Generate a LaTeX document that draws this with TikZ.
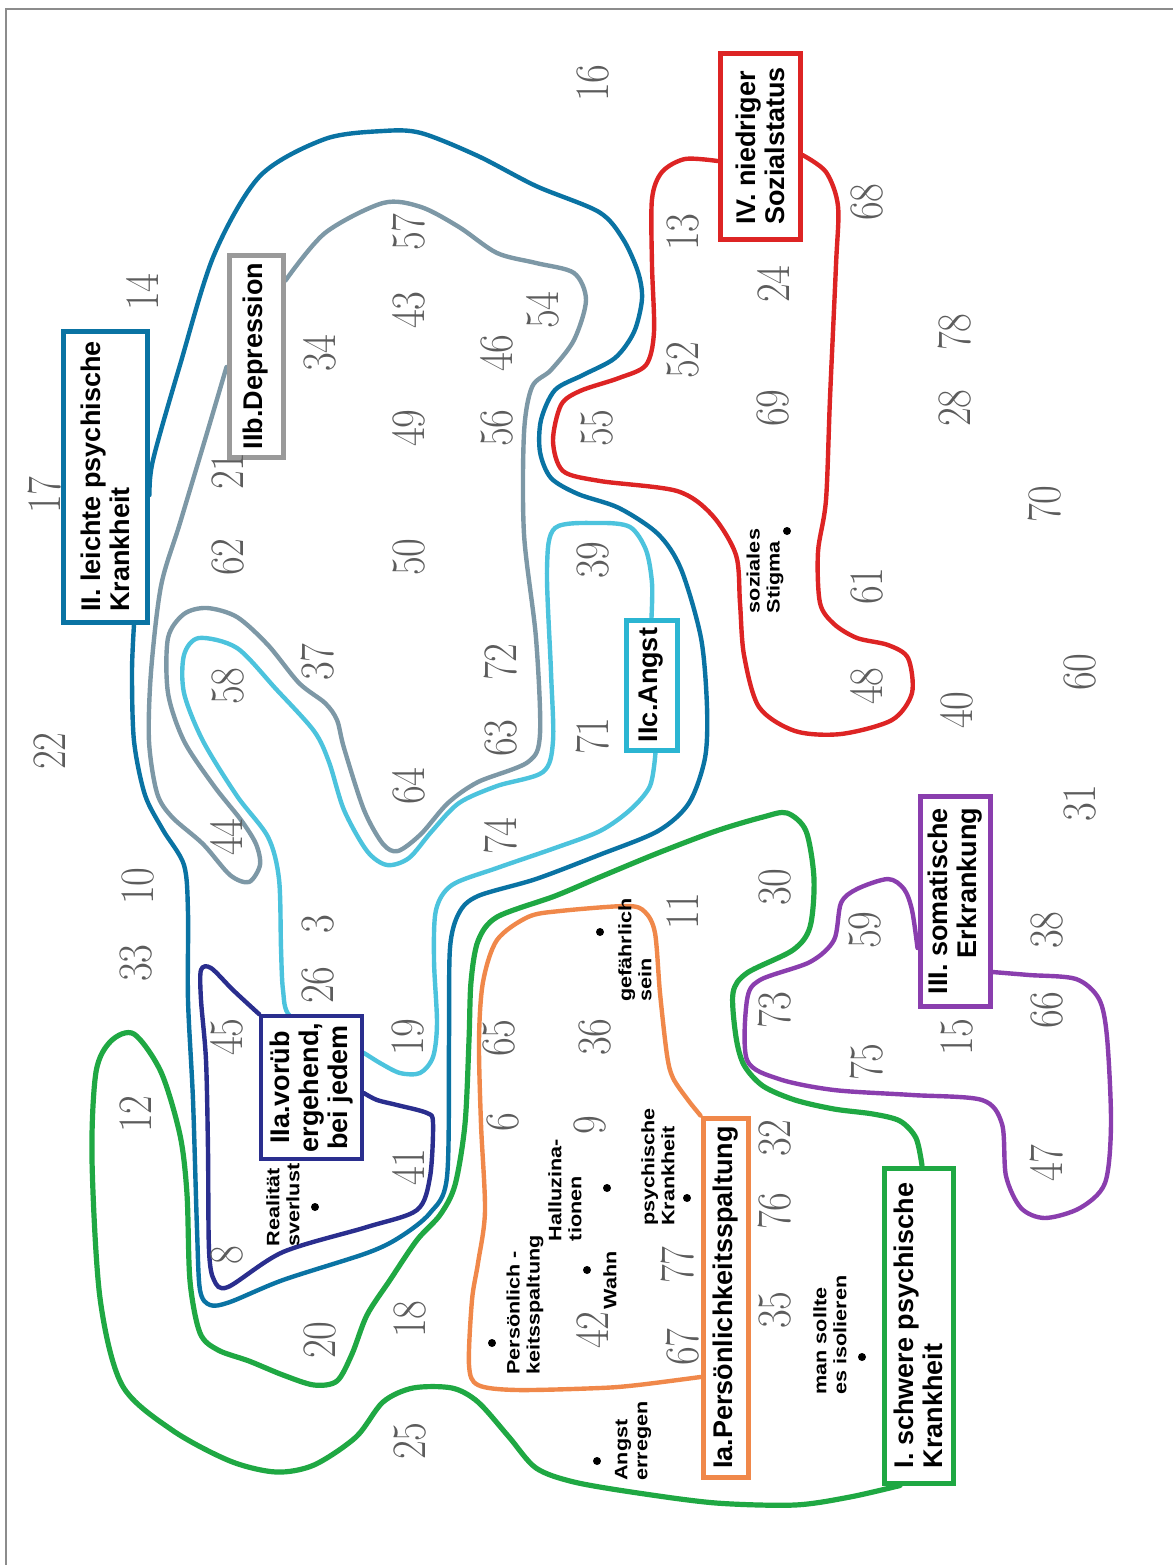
\documentclass[tikz,border=0pt]{standalone}
\usepackage{fontspec}
\setsansfont{Liberation Sans}
\usepackage{tikz}
\usetikzlibrary{backgrounds}
\definecolor{schwer}{HTML}{1FA843}
\definecolor{spaltung}{HTML}{F0884A}
\definecolor{leicht}{HTML}{0A73A3}
\definecolor{voruebergehend}{HTML}{2A2E8E}
\definecolor{depression}{HTML}{7D98A6}
\definecolor{depressionbox}{HTML}{9A9A9A}
\definecolor{angst}{HTML}{4CC3DD}
\definecolor{angstbox}{HTML}{2BB5D2}
\definecolor{somatisch}{HTML}{8A3EAE}
\definecolor{sozial}{HTML}{DD2424}
\definecolor{numgray}{HTML}{5C5C5C}
\definecolor{framegray}{HTML}{8C8C8C}
\newcommand{\numfont}{\rmfamily\fontsize{24}{24}\selectfont}
\newcommand{\lblfont}{\sffamily\bfseries\fontsize{13.5}{14.5}\selectfont}
\newcommand{\notefont}{\sffamily\bfseries\fontsize{9}{10}\selectfont}
\tikzset{
num/.style={font=\numfont,text=numgray,rotate=90,xscale=.85,inner sep=0pt},
lblbox/.style={draw=#1,fill=white,line width=2.5pt,rotate=90,font=\lblfont,inner sep=1pt},
note/.style={font=\notefont,align=left,rotate=90,xscale=1.2,inner sep=0pt},
dot/.style={circle,fill=black,inner sep=0pt,minimum size=4pt},
region/.style={line width=2.2pt,line cap=round,line join=round},
frame/.style={draw=framegray,line width=1pt}
}

\begin{document}
\begin{tikzpicture}[x=.5pt,y=-.5pt]
\useasboundingbox (0,0) rectangle (1173,1565);
\draw[frame] (6,1565) -- (6,9) -- (1173,9);

\node[lblbox=schwer,minimum width=157.5pt,minimum height=34.5pt,align=left] (boxI) at (918.5,1325.5) {I. schwere psychische\\Krankheit};
\node[lblbox=spaltung,minimum width=179.5pt,minimum height=22.5pt] (boxIa) at (725.5,1297.5) {Ia.Persönlichkeitsspaltung};
\node[lblbox=leicht,minimum width=145.5pt,minimum height=42pt,align=left] (boxII) at (105,476.5) {II. leichte psychische\\Krankheit};
\node[lblbox=voruebergehend,line width=1.8pt,minimum width=71.5pt,minimum height=50.5pt,align=center] (boxIIa) at (311.5,1087.5) {IIa.vorüb\\ergehend,\\bei jedem};
\node[lblbox=depressionbox,minimum width=101pt,minimum height=27pt] (boxIIb) at (256,356) {IIb.Depression};
\node[lblbox=angstbox,minimum width=65pt,minimum height=25.5pt] (boxIIc) at (651.5,685) {IIc.Angst};
\node[lblbox=somatisch,minimum width=105pt,minimum height=35pt,align=right] (boxIII) at (955,901) {III. somatische\\Erkrankung};
\node[lblbox=sozial,minimum width=93pt,minimum height=40pt,align=left] (boxIV) at (760,146) {IV. niedriger\\Sozialstatus};

\begin{scope}[on background layer]
\draw[region,leicht] plot[smooth] coordinates {([yshift=-9.25pt]boxII.south) (153,460) (180,365) (214,255) (260,176) (325,139) (383,131) (421,133) (478,156) (536,186) (599,212) (623,239) (638,272) (642,299) (634,332) (615,358) (583,375) (555,390) (541,420) (540,452) (551,478) (578,494) (619,508) (658,534) (681,569) (701,638) (707,707) (705,758) (689,803) (658,831) (599,855) (536,879) (478,896) (459,913) (450,948) (449,1040) (447,1177) (430,1213) (400,1237) (367,1253) (283,1280) (230,1302) (210,1305) (200,1290) (197,1229) (193,1100) (188,1000) (188,913) (184,865) (163,830) (145,795) (134,741) (132,672) ([xshift=14.5pt]boxII.west)};
\draw[region,depression] plot[smooth] coordinates {([yshift=-5.5pt]boxIIb.north) (207,433) (180,523) (161,586) (151,672) (149,741) (157,793) (172,817) (203,844) (230,875) (249,882) (260,865) (256,844) (241,820) (214,786) (184,741) (168,693) (168,638) (184,614) (207,608) (237,617) (268,645) (299,683) (325,703) (337,720) (344,748) (364,810) (383,844) (398,851) (421,834) (448,803) (478,782) (528,762) (540,734) (536,638) (524,534) (524,433) (532,387) (551,370) (574,340) (586,300) (574,273) (536,263) (497,253) (459,227) (421,207) (383,203) (325,233) ([yshift=-14pt]boxIIb.south east)};
\draw[region,angst] plot[smooth] coordinates {(boxIIc.east) (652,583) (646,550) (630,527) (599,523) (555,528) (547,569) (551,672) (553,741) (543,772) (497,786) (459,803) (432,831) (409,858) (387,865) (367,851) (344,810) (329,762) (314,731) (276,689) (237,648) (199,638) (184,655) (184,693) (203,741) (237,796) (268,837) (279,879) (281,948) (283,990) (290,1016) (330,1036) (362,1052) (380,1063) (400,1073) (420,1073) (433,1057) (437,1023) (434,960) (436,910) (452,885) (497,868) (555,848) (600,831) (630,810) (650,786) ([xshift=2pt]boxIIc.west)};
\draw[region,voruebergehend] plot[smooth] coordinates {(boxIIa.north east) (233,990) (211,968) (201,970) (201,1000) (206,1060) (208,1150) (209,1250) (214,1280) (228,1287) (283,1252) (367,1227) (417,1210) (430,1177) (433,1123) (427,1113) (397,1105) (377,1100) ([yshift=-2.75pt]boxIIa.south)};
\draw[region,schwer,line width=2.6pt] plot[smooth] coordinates {([xshift=1.75pt]boxI.east) (916,1138) (900,1121) (873,1114) (834,1109) (795,1100) (763,1086) (744,1065) (736,1037) (733,993) (747,973) (793,950) (810,927) (814,879) (806,831) (787,813) (763,817) (716,831) (658,853) (600,877) (555,896) (497,917) (478,941) (471,982) (469,1040) (465,1124) (455,1185) (440,1215) (417,1240) (390,1280) (367,1315) (352,1354) (337,1381) (314,1385) (283,1375) (249,1361) (218,1350) (200,1333) (190,1281) (187,1194) (180,1135) (161,1072) (134,1034) (111,1041) (96,1072) (92,1159) (100,1298) (122,1385) (172,1430) (230,1461) (276,1472) (314,1465) (356,1437) (383,1402) (413,1388) (452,1388) (478,1402) (509,1437) (536,1468) (574,1482) (638,1493) (716,1503) (795,1505) (850,1497) ([xshift=-9.25pt]boxI.west)};
\draw[region,spaltung] plot[smooth] coordinates {(boxIa.north east) (688,1100) (673,1078) (667,1055) (660,993) (655,933) (645,912) (627,906) (560,911) (528,917) (497,940) (483,982) (479,1040) (481,1124) (485,1211) (478,1263) (472,1300) (469,1365) (478,1385) (517,1390) (600,1388) (638,1385) ([yshift=-39.75pt]boxIa.north)};
\draw[region,sozial] plot[smooth] coordinates {([yshift=-7.5pt]boxIV.north) (685,159) (662,172) (652,199) (652,265) (654,332) (646,365) (619,378) (580,391) (561,405) (553,441) (563,471) (600,481) (677,491) (712,515) (736,555) (740,603) (744,655) (759,707) (795,731) (841,734) (892,720) (912,693) (908,658) (888,645) (857,638) (834,624) (820,603) (818,552) (826,500) (830,398) (836,265) (838,206) (826,172) ([yshift=-4.5pt]boxIV.south)};
\draw[region,somatisch] plot[smooth] coordinates {([yshift=-23.5pt]boxIII.north) (912,910) (904,889) (888,879) (857,889) (841,903) (834,940) (810,962) (760,980) (747,1000) (747,1060) (779,1079) (834,1090) (912,1095) (982,1100) (1002,1124) (1006,1176) (1021,1208) (1045,1218) (1080,1208) (1105,1183) (1111,1124) (1107,1037) (1099,999) (1076,979) (1029,975) ([yshift=-35.5pt]boxIII.south)};
\end{scope}

\foreach \n/\x/\y in {16/593/83, 14/142/292, 57/409/232, 43/409/310, 34/320/353, 54/543/310, 46/497/353, 49/409/428, 56/497/428, 55/597/428, 21/228/471, 13/683/232, 68/867/202, 24/773/284, 52/683/360, 78/955/332, 69/773/408, 28/955/408, 70/1045/504, 17/45/495, 62/228/557, 50/409/557, 39/593/560, 61/867/586, 37/318/662, 58/228/686, 72/501/662, 63/501/738, 71/593/736, 48/867/686, 60/1080/672, 40/957/710, 22/50/751, 64/409/786, 44/226/837, 74/501/836, 31/1080/803, 10/138/886, 30/775/887, 11/683/911, 33/136/963, 3/318/924, 59/865/930, 38/1047/930, 26/318/985, 73/775/1010, 66/1047/1010, 45/227/1037, 19/408/1037, 65/499/1038, 36/595/1037, 15/957/1037, 75/867/1062, 12/136/1114, 6/503/1122, 9/590/1125, 32/775/1138, 47/1047/1163, 41/408/1167, 76/775/1211, 8/227/1255, 77/678/1265, 35/775/1310, 18/410/1319, 42/592/1330, 20/320/1340, 67/683/1347, 25/410/1441}
  \node[num] (n\n) at (\x,\y) {\n};

\node[note] (realitaet) at (283,1205) {Realität\\sverlust};
\node[dot] (drealitaet) at (315,1207) {};
\node[note] (persoenlich) at (525,1305) {Persönlich -\\keitsspaltung};
\node[dot] (dpersoenlich) at (492,1343) {};
\node[note] (halluz) at (565,1190) {Halluzina-\\tionen};
\node[dot] (dhalluz) at (607,1188) {};
\node[note] (wahn) at (610,1280) {Wahn};
\node[dot] (dwahn) at (587,1270) {};
\node[note] (psychisch) at (658,1167) {psychische\\Krankheit};
\node[dot] (dpsychisch) at (687,1198) {};
\node[note] (gefaehrlich) at (635,950) {gefährlich\\sein};
\node[dot] (dgefaehrlich) at (600,932) {};
\node[note] (stigma) at (765,571) {soziales\\Stigma};
\node[dot] (dstigma) at (787,531) {};
\node[note] (angsterr) at (633,1441) {Angst\\erregen};
\node[dot] (dangsterr) at (597,1461) {};
\node[note] (isolieren) at (830,1335) {man sollte\\es isolieren};
\node[dot] (disolieren) at (862,1357) {};
\end{tikzpicture}
\end{document}
